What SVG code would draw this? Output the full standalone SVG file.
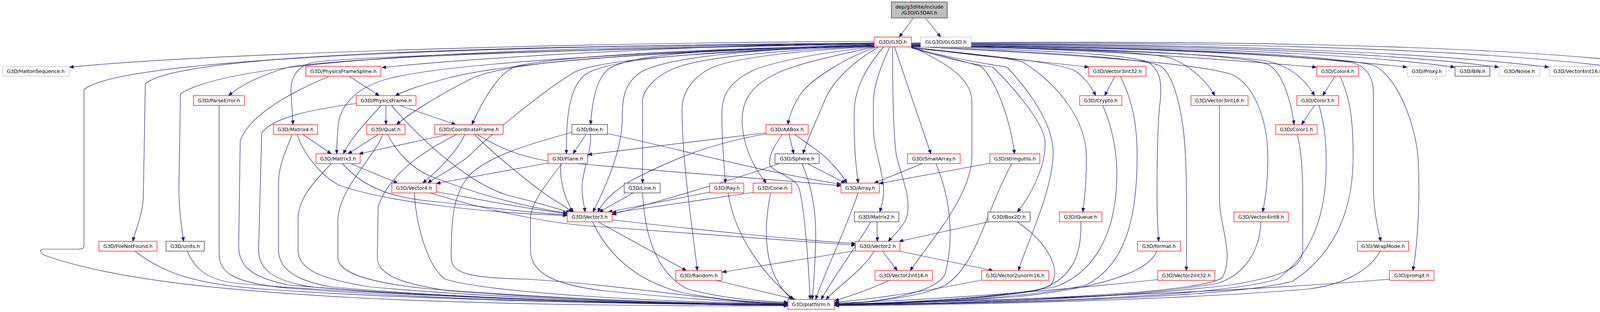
<svg xmlns="http://www.w3.org/2000/svg" width="4415" height="799" viewBox="0 0 4415 799">
<style>
.e{fill:none;stroke:#191970;stroke-width:1.2;marker-end:url(#ah)}
rect{fill:#fff;stroke-width:1.3}
.r rect{stroke:#ff0000}
.g rect{stroke:#bfbfbf}
.k rect{stroke:#333333}
.root rect{fill:#bfbfbf;stroke:#333333}
text{font-family:"DejaVu Sans","Liberation Sans",sans-serif;font-size:12.7px;text-anchor:middle;fill:#000}
</style>
<defs>
<marker id="ah" markerWidth="11" markerHeight="9" refX="10.5" refY="4.5" orient="auto" markerUnits="userSpaceOnUse"><path d="M0,0 L11,4.5 L0,9 z" fill="#191970" stroke="#191970" stroke-width="0.5"/></marker>
</defs>
<rect x="0" y="0" width="4415" height="799" style="fill:#fff;stroke:none"/>
<g id="edges">
<path class="e" d="M2337,47 L2302,95"/>
<path class="e" d="M2370,47 L2408,95"/>
<path class="e" d="M2238,106 C1400,110 500,140 178,172"/>
<path class="e" d="M2238,110 C1200,118 300,150 215,230 L215,628 C215,636 210,638 200,638 L112,638 C100,638 102,648 115,654 C300,720 600,745 900,762 C1300,783 1800,784 2017,783"/>
<path class="e" d="M2238,111 C1200,118 450,140 372,215 L367,500 C367,545 345,595 340,618"/>
<path class="e" d="M2238,112 C1300,120 600,150 462,240 L458,480 C458,540 466,590 470,618"/>
<path class="e" d="M2238,113 C1500,125 900,145 740,172 C680,188 620,215 585,245"/>
<path class="e" d="M2238,110 C1700,118 1200,150 978,173"/>
<path class="e" d="M2238,114 C1700,130 1300,160 1146,200 C1080,218 1040,230 1012,245"/>
<path class="e" d="M2238,112 C1500,125 900,145 800,160 C760,170 742,200 745,240 C747,270 749,295 750,319"/>
<path class="e" d="M2238,115 C1700,130 1160,160 1000,200 C900,225 870,280 866,320 C863,350 862,375 862,394"/>
<path class="e" d="M2238,116 C1700,135 1300,150 1200,205 C1120,245 1050,290 1015,319"/>
<path class="e" d="M2238,117 C1700,125 1400,150 1320,170 C1270,190 1230,270 1208,319"/>
<path class="e" d="M2238,117 C1800,125 1620,140 1560,175 C1525,200 1515,270 1512,319"/>
<path class="e" d="M2238,118 C1800,130 1560,150 1500,190 C1450,225 1450,330 1450,394"/>
<path class="e" d="M2238,118 C1700,135 1520,160 1470,185 C1380,240 1250,350 1200,400 C1150,440 1110,455 1096,469"/>
<path class="e" d="M2238,118 C1900,125 1700,150 1640,185 C1595,215 1593,260 1593,300 C1593,350 1580,420 1518,543"/>
<path class="e" d="M2238,119 C1950,130 1800,150 1740,170 C1680,190 1645,230 1645,260 L1645,469"/>
<path class="e" d="M2238,119 C2050,130 1900,145 1830,170 C1770,195 1746,240 1746,280 C1746,420 1775,600 1785,693"/>
<path class="e" d="M2238,120 C2100,135 2000,155 1940,175 C1870,205 1848,240 1848,290 C1848,380 1855,430 1857,469"/>
<path class="e" d="M2240,120 C2150,140 2050,160 1990,187 C1920,220 1897,260 1900,320 C1905,380 1930,430 1962,469"/>
<path class="e" d="M2245,120 C2170,145 2080,200 2050,240 C2030,270 2020,300 2017,319"/>
<path class="e" d="M2250,120 C2180,160 2130,210 2110,260 C2090,310 2065,360 2056,394"/>
<path class="e" d="M2262,120 C2220,170 2190,220 2187,280 C2185,350 2190,420 2197,469"/>
<path class="e" d="M2278,120 C2255,170 2236,220 2236,260 L2236,330 C2236,380 2262,440 2262,490 C2262,512 2256,530 2252,543"/>
<path class="e" d="M2285,120 C2285,250 2287,350 2295,400 C2310,460 2335,510 2320,560 C2305,590 2285,605 2274,618"/>
<path class="e" d="M2290,120 L2383,394"/>
<path class="e" d="M2333,119 C2420,160 2488,200 2488,260 L2488,400 C2488,500 2380,620 2330,693"/>
<path class="e" d="M2333,121 C2450,155 2500,165 2512,170 C2560,220 2590,330 2597,394"/>
<path class="e" d="M2333,122 C2450,160 2530,170 2542,172 C2620,250 2670,320 2675,360 C2680,420 2640,500 2604,543"/>
<path class="e" d="M2333,123 C2480,160 2560,168 2578,172 C2650,250 2700,330 2696,400 C2690,500 2630,620 2607,693"/>
<path class="e" d="M2333,123 C2500,140 2600,150 2620,160 C2700,210 2780,300 2781,400 C2782,470 2775,520 2772,543"/>
<path class="e" d="M2333,121 C2600,150 2700,160 2750,180 C2780,200 2795,225 2805,245"/>
<path class="e" d="M2333,120 C2500,145 2650,155 2787,172"/>
<path class="e" d="M2333,118 C2700,125 2940,130 3000,150 C3050,170 3090,210 3110,245"/>
<path class="e" d="M2333,116 C2800,125 3100,150 3370,172"/>
<path class="e" d="M2333,117 C2800,125 3150,140 3247,157 C3300,170 3340,200 3365,245"/>
<path class="e" d="M2333,116 C2800,122 3200,140 3250,167 C3285,190 3305,260 3313,319"/>
<path class="e" d="M2333,115 C3000,120 3300,140 3602,172"/>
<path class="e" d="M2333,114 C3000,115 3500,140 3724,172"/>
<path class="e" d="M2333,113 C3100,112 3600,140 3837,172"/>
<path class="e" d="M2333,112 C3200,110 3700,140 3965,172"/>
<path class="e" d="M2333,111 C3300,105 3850,135 4137,172"/>
<path class="e" d="M2333,110 C3400,100 4000,130 4289,172"/>
<path class="e" d="M2333,118 C2700,130 2900,140 2940,160 C2970,180 2975,210 2970,260 C2962,320 2962,450 2962,500 C2962,560 2965,600 2966,618"/>
<path class="e" d="M2333,119 C2700,135 2940,150 2973,170 C3010,200 3030,300 3035,400 C3039,500 3038,620 3037,693"/>
<path class="e" d="M2333,119 C2750,140 3050,160 3152,190 C3210,215 3240,300 3245,380 C3248,450 3240,510 3232,543"/>
<path class="e" d="M2333,117 C2900,120 3300,140 3460,160 C3500,170 3516,200 3516,240 L3516,480 C3516,540 3528,590 3535,618"/>
<path class="e" d="M2333,116 C2950,118 3400,140 3516,167 C3570,190 3620,300 3630,400 C3636,500 3630,620 3617,693"/>
<path class="e" d="M895,196 L971,245"/>
<path class="e" d="M841,196 C760,230 640,290 615,360 L611,630 C611,680 640,710 740,730 C1200,770 1800,780 2017,781"/>
<path class="e" d="M912,265 C800,280 700,300 670,340 L662,640 C662,690 700,720 800,735 C1200,770 1800,781 2017,782"/>
<path class="e" d="M976,270 C940,310 900,350 879,394"/>
<path class="e" d="M988,270 L988,319"/>
<path class="e" d="M1002,270 C1080,360 1200,470 1300,500 C1380,520 1430,535 1460,545"/>
<path class="e" d="M1023,270 L1167,319"/>
<path class="e" d="M561,270 L561,650 C561,700 600,725 740,738 C1200,775 1800,780 2017,780"/>
<path class="e" d="M748,344 C735,380 713,420 713,470 L713,640 C713,690 760,720 850,735 C1250,770 1800,781 2017,782"/>
<path class="e" d="M775,344 L848,394"/>
<path class="e" d="M761,344 C775,390 820,450 870,475 C1000,520 1250,545 1452,552"/>
<path class="e" d="M969,344 L891,394"/>
<path class="e" d="M980,344 C960,400 870,480 865,560 L865,660 C865,700 950,725 1100,740 C1500,770 1800,778 2017,779"/>
<path class="e" d="M992,344 C1010,380 1050,430 1100,450 C1250,510 1380,535 1452,546"/>
<path class="e" d="M1148,344 L919,394"/>
<path class="e" d="M1169,344 C1120,370 1000,430 968,530 L966,660 C966,710 1050,730 1150,745 C1500,772 1800,779 2017,780"/>
<path class="e" d="M1190,344 C1175,380 1130,430 1082,469"/>
<path class="e" d="M1214,344 C1250,380 1330,450 1400,500 C1430,520 1450,530 1465,543"/>
<path class="e" d="M1221,344 C1280,380 1330,400 1400,412 C1700,440 2000,460 2153,476"/>
<path class="e" d="M1500,344 L1467,394"/>
<path class="e" d="M1511,344 C1517,380 1490,440 1490,480 C1490,505 1495,525 1498,543"/>
<path class="e" d="M1555,342 C1750,385 1950,440 2153,472"/>
<path class="e" d="M1464,339 C1350,370 1250,400 1200,450 C1160,500 1155,560 1155,660 C1155,700 1200,712 1350,715 C1600,730 1850,775 2017,779"/>
<path class="e" d="M1961,340 C1800,360 1600,385 1505,396"/>
<path class="e" d="M1961,343 C1800,370 1700,420 1620,460 C1570,490 1545,515 1530,543"/>
<path class="e" d="M2003,344 C1985,370 1968,395 1970,420 C1975,440 2030,450 2045,480 C2060,530 2070,680 2074,767"/>
<path class="e" d="M2020,344 L2032,394"/>
<path class="e" d="M2034,344 C2070,370 2110,395 2130,420 C2150,440 2160,455 2168,469"/>
<path class="e" d="M1405,417 L1117,470"/>
<path class="e" d="M1436,419 C1432,460 1445,510 1468,543"/>
<path class="e" d="M1438,419 C1400,470 1358,520 1358,560 L1358,640 C1358,700 1420,730 1550,745 C1750,765 1900,775 2017,778"/>
<path class="e" d="M1994,419 C1850,470 1700,510 1567,550"/>
<path class="e" d="M2053,419 C2080,480 2090,550 2088,620 C2086,690 2082,740 2079,767"/>
<path class="e" d="M2067,419 L2164,469"/>
<path class="e" d="M898,419 L1018,469"/>
<path class="e" d="M877,419 C930,480 1000,505 1100,515 C1250,530 1350,545 1452,550"/>
<path class="e" d="M848,419 C800,470 763,510 763,560 L763,640 C763,690 820,715 950,735 C1350,770 1800,780 2017,781"/>
<path class="e" d="M1117,491 C1250,515 1350,535 1452,547"/>
<path class="e" d="M1101,494 C1250,540 1400,570 1500,578 C1800,600 2050,620 2190,628"/>
<path class="e" d="M1061,494 C1063,560 1090,680 1140,715 C1250,750 1700,775 2017,778"/>
<path class="e" d="M1621,494 L1534,543"/>
<path class="e" d="M1645,494 C1650,600 1680,700 1760,740 C1850,765 1950,772 2017,774"/>
<path class="e" d="M1817,492 L1557,543"/>
<path class="e" d="M1864,494 C1880,600 1950,700 2032,767"/>
<path class="e" d="M1928,493 L1567,545"/>
<path class="e" d="M1973,494 C1955,580 1950,700 2028,767"/>
<path class="e" d="M2197,494 C2160,600 2110,700 2088,767"/>
<path class="e" d="M1567,563 C1800,590 2050,615 2190,624"/>
<path class="e" d="M1531,568 L1757,693"/>
<path class="e" d="M1517,568 C1550,640 1620,720 1750,750 C1850,770 1950,775 2017,776"/>
<path class="e" d="M1833,718 L2036,767"/>
<path class="e" d="M2245,568 L2246,618"/>
<path class="e" d="M2229,568 C2200,620 2140,700 2102,767"/>
<path class="e" d="M2259,643 L2297,693"/>
<path class="e" d="M2302,643 L2542,693"/>
<path class="e" d="M2190,642 L1849,697"/>
<path class="e" d="M2238,643 C2210,690 2150,730 2114,767"/>
<path class="e" d="M2531,568 L2302,618"/>
<path class="e" d="M2604,568 C2680,620 2720,690 2690,730 C2650,760 2300,775 2137,780"/>
<path class="e" d="M2361,419 L2238,469"/>
<path class="e" d="M2396,419 C2430,500 2445,600 2420,700 C2400,750 2250,775 2137,778"/>
<path class="e" d="M2535,418 L2251,470"/>
<path class="e" d="M2590,419 C2520,550 2500,680 2420,730 C2350,765 2200,776 2137,779"/>
<path class="e" d="M2276,718 C2230,740 2170,760 2137,770"/>
<path class="e" d="M2514,717 C2400,740 2250,765 2137,774"/>
<path class="e" d="M2767,568 C2770,660 2740,720 2650,745 C2500,770 2250,778 2137,780"/>
<path class="e" d="M2823,270 C2850,330 2860,400 2859,450 C2858,600 2800,700 2700,735 C2500,770 2250,778 2137,781"/>
<path class="e" d="M2854,195 L2828,245"/>
<path class="e" d="M2868,195 C2900,260 2911,320 2911,400 C2911,560 2880,680 2780,730 C2600,770 2250,779 2137,782"/>
<path class="e" d="M3122,270 L3122,510 C3122,580 3160,650 3130,710 C3100,740 2800,760 2500,770 C2300,776 2200,779 2137,780"/>
<path class="e" d="M3417,196 L3386,245"/>
<path class="e" d="M3431,196 C3455,250 3464,300 3464,400 C3464,520 3430,640 3310,720 C3150,765 2500,778 2137,782"/>
<path class="e" d="M3365,270 L3332,319"/>
<path class="e" d="M3377,270 C3390,320 3395,350 3395,420 C3395,550 3360,650 3270,715 C3100,765 2500,778 2137,781"/>
<path class="e" d="M3321,344 C3330,380 3335,430 3335,500 L3335,640 C3335,690 3270,710 3150,730 C2800,770 2400,778 2137,781"/>
<path class="e" d="M3228,568 C3225,640 3190,700 3120,725 C2900,765 2400,778 2137,780"/>
<path class="e" d="M2961,643 C2940,700 2800,740 2600,760 C2400,775 2200,779 2137,779"/>
<path class="e" d="M2964,716 C2700,745 2400,768 2137,776"/>
<path class="e" d="M3534,643 C3500,700 3430,730 3350,740 C3000,770 2400,782 2137,783"/>
<path class="e" d="M3557,715 C3200,745 2600,770 2137,778"/>
<path class="e" d="M479,643 C500,690 530,715 600,725 C1000,760 1700,780 2017,780"/>
<path class="e" d="M345,643 C420,700 500,730 700,742 C1100,770 1700,780 2017,781"/>
</g>
<g id="n_root" class="root"><rect x="2282" y="5" width="143" height="41"/><text x="2353.5" y="21.5">dep/g3dlite/include</text><text x="2353.5" y="36.5">/G3D/G3DAll.h</text></g>
<g id="n_g3d" class="r"><rect x="2238" y="95" width="95" height="25"/><text x="2285.5" y="112">G3D/G3D.h</text></g>
<g id="n_glg3d" class="g"><rect x="2357" y="95" width="129" height="25"/><text x="2421.5" y="112">GLG3D/GLG3D.h</text></g>
<g id="n_halton" class="g"><rect x="6" y="170" width="171" height="25"/><text x="91.5" y="187">G3D/HaltonSequence.h</text></g>
<g id="n_pfs" class="r"><rect x="783" y="170" width="192" height="25"/><text x="879" y="187">G3D/PhysicsFrameSpline.h</text></g>
<g id="n_v3i32" class="r"><rect x="2787" y="170" width="147" height="25"/><text x="2860.5" y="187">G3D/Vector3int32.h</text></g>
<g id="n_color4" class="r"><rect x="3371" y="170" width="107" height="25"/><text x="3424.5" y="187">G3D/Color4.h</text></g>
<g id="n_proxy" class="g"><rect x="3603" y="170" width="99" height="25"/><text x="3652.5" y="187">G3D/Proxy.h</text></g>
<g id="n_bin" class="k"><rect x="3725" y="170" width="89" height="25"/><text x="3769.5" y="187">G3D/BIN.h</text></g>
<g id="n_noise" class="g"><rect x="3838" y="170" width="104" height="25"/><text x="3890" y="187">G3D/Noise.h</text></g>
<g id="n_v4i16" class="g"><rect x="3966" y="170" width="147" height="25"/><text x="4039.5" y="187">G3D/Vector4int16.h</text></g>
<g id="n_proj" class="g"><rect x="4138" y="170" width="128" height="25"/><text x="4202" y="187">G3D/Projection.h</text></g>
<g id="n_cull" class="g"><rect x="4290" y="170" width="119" height="25"/><text x="4349.5" y="187">G3D/CullFace.h</text></g>
<g id="n_parse" class="r"><rect x="495" y="245" width="131" height="25"/><text x="560.5" y="262">G3D/ParseError.h</text></g>
<g id="n_pf" class="r"><rect x="912" y="245" width="153" height="25"/><text x="988.5" y="262">G3D/PhysicsFrame.h</text></g>
<g id="n_crypto" class="r"><rect x="2764" y="245" width="108" height="25"/><text x="2818" y="262">G3D/Crypto.h</text></g>
<g id="n_v3i16" class="r"><rect x="3049" y="245" width="146" height="25"/><text x="3122" y="262">G3D/Vector3int16.h</text></g>
<g id="n_color3" class="r"><rect x="3320" y="245" width="107" height="25"/><text x="3373.5" y="262">G3D/Color3.h</text></g>
<g id="n_matrix4" class="r"><rect x="700" y="319" width="113" height="25"/><text x="756.5" y="336">G3D/Matrix4.h</text></g>
<g id="n_quat" class="r"><rect x="939" y="319" width="98" height="25"/><text x="988" y="336">G3D/Quat.h</text></g>
<g id="n_cf" class="r"><rect x="1113" y="319" width="175" height="25"/><text x="1200.5" y="336">G3D/CoordinateFrame.h</text></g>
<g id="n_box" class="k"><rect x="1464" y="319" width="91" height="25"/><text x="1509.5" y="336">G3D/Box.h</text></g>
<g id="n_aabox" class="r"><rect x="1961" y="319" width="108" height="25"/><text x="2015" y="336">G3D/AABox.h</text></g>
<g id="n_color1" class="r"><rect x="3266" y="319" width="106" height="25"/><text x="3319" y="336">G3D/Color1.h</text></g>
<g id="n_matrix3" class="r"><rect x="809" y="394" width="113" height="25"/><text x="865.5" y="411">G3D/Matrix3.h</text></g>
<g id="n_plane" class="r"><rect x="1403" y="394" width="101" height="25"/><text x="1453.5" y="411">G3D/Plane.h</text></g>
<g id="n_sphere" class="k"><rect x="1984" y="394" width="113" height="25"/><text x="2040.5" y="411">G3D/Sphere.h</text></g>
<g id="n_smallarray" class="r"><rect x="2323" y="394" width="135" height="25"/><text x="2390.5" y="411">G3D/SmallArray.h</text></g>
<g id="n_stringutils" class="r"><rect x="2534" y="394" width="128" height="25"/><text x="2598" y="411">G3D/stringutils.h</text></g>
<g id="n_vector4" class="r"><rect x="1003" y="469" width="114" height="25"/><text x="1060" y="486">G3D/Vector4.h</text></g>
<g id="n_line" class="k"><rect x="1598" y="469" width="92" height="25"/><text x="1644" y="486">G3D/Line.h</text></g>
<g id="n_ray" class="r"><rect x="1817" y="469" width="87" height="25"/><text x="1860.5" y="486">G3D/Ray.h</text></g>
<g id="n_cone" class="r"><rect x="1928" y="469" width="99" height="25"/><text x="1977.5" y="486">G3D/Cone.h</text></g>
<g id="n_array" class="r"><rect x="2153" y="469" width="98" height="25"/><text x="2202" y="486">G3D/Array.h</text></g>
<g id="n_vector3" class="r"><rect x="1452" y="543" width="115" height="25"/><text x="1509.5" y="560">G3D/Vector3.h</text></g>
<g id="n_matrix2" class="k"><rect x="2187" y="543" width="114" height="25"/><text x="2244" y="560">G3D/Matrix2.h</text></g>
<g id="n_box2d" class="k"><rect x="2529" y="543" width="108" height="25"/><text x="2583" y="560">G3D/Box2D.h</text></g>
<g id="n_queue" class="r"><rect x="2712" y="543" width="109" height="25"/><text x="2766.5" y="560">G3D/Queue.h</text></g>
<g id="n_v4i8" class="r"><rect x="3159" y="543" width="139" height="25"/><text x="3228.5" y="560">G3D/Vector4int8.h</text></g>
<g id="n_fnf" class="r"><rect x="253" y="618" width="149" height="25"/><text x="327.5" y="635">G3D/FileNotFound.h</text></g>
<g id="n_units" class="k"><rect x="425" y="618" width="98" height="25"/><text x="474" y="635">G3D/units.h</text></g>
<g id="n_vector2" class="r"><rect x="2190" y="618" width="114" height="25"/><text x="2247" y="635">G3D/Vector2.h</text></g>
<g id="n_format" class="r"><rect x="2912" y="618" width="110" height="25"/><text x="2967" y="635">G3D/format.h</text></g>
<g id="n_wrap" class="r"><rect x="3475" y="618" width="131" height="25"/><text x="3540.5" y="635">G3D/WrapMode.h</text></g>
<g id="n_random" class="r"><rect x="1730" y="693" width="118" height="25"/><text x="1789" y="710">G3D/Random.h</text></g>
<g id="n_v2i16" class="r"><rect x="2240" y="693" width="147" height="25"/><text x="2313.5" y="710">G3D/Vector2int16.h</text></g>
<g id="n_v2u16" class="r"><rect x="2513" y="693" width="172" height="25"/><text x="2599" y="710">G3D/Vector2unorm16.h</text></g>
<g id="n_v2i32" class="r"><rect x="2964" y="693" width="146" height="25"/><text x="3037" y="710">G3D/Vector2int32.h</text></g>
<g id="n_prompt" class="r"><rect x="3557" y="693" width="114" height="25"/><text x="3614" y="710">G3D/prompt.h</text></g>
<g id="n_platform" class="r"><rect x="2017" y="767" width="119" height="25"/><text x="2076.5" y="784">G3D/platform.h</text></g>
</svg>
